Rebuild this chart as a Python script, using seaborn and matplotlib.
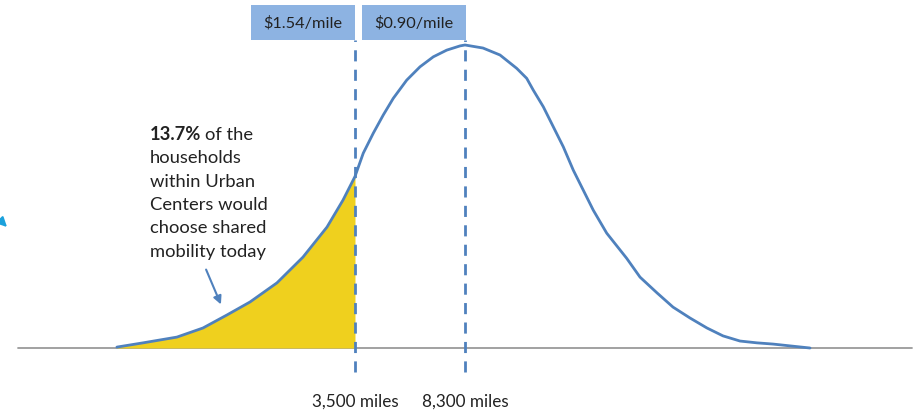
import matplotlib
matplotlib.use("Agg")
import matplotlib.pyplot as plt
from matplotlib.patches import Rectangle
import numpy as np
import pandas as pd
import seaborn as sns

# 연간 주행거리(miles, 로그축) vs 상대 가구 비율 (곡선 최고점 = 100)
miles = [540, 663, 865, 1061, 1281, 1536, 1897, 2327, 2809, 3185, 3500,
         3735, 4041, 4370, 4727, 5252, 5830, 6473, 7189, 7982, 8300,
         9560, 10925, 12454, 13472, 14188, 15351, 16602, 17956, 19420,
         21003, 22716, 25249, 29532, 32787, 37466, 42485, 48552, 55477,
         62903, 71876, 82130, 93140, 106430, 124540]
share = [0.3, 1.7, 3.6, 6.6, 10.9, 15.2, 21.5, 30.0, 39.9, 48.8, 56.6,
         64.3, 70.9, 76.9, 82.4, 88.4, 92.8, 96.1, 98.3, 99.7, 100.0,
         99.0, 96.7, 92.3, 89.0, 85.1, 79.6, 73.0, 66.4, 58.7,
         52.1, 45.5, 37.9, 29.6, 23.4, 18.2, 13.5, 9.9, 6.6,
         4.0, 2.3, 1.7, 1.3, 0.7, 0.0]

cut_miles = [3500, 8300]
cut_labels = ["3,500 miles", "8,300 miles"]
cost_labels = ["$1.54/mile", "$0.90/mile"]
note_pct = "13.7%"

df = pd.DataFrame({"miles": miles, "share": share})

sns.set_theme(style="white")
plt.rcParams["font.family"] = ["Lato", "DejaVu Sans"]

W, H = 915, 412
fig = plt.figure(figsize=(W / 100, H / 100), dpi=100)
ax = fig.add_axes([0, 0, 1, 1])
ax.set_xscale("log")
ax.set_xlim(215.7, 283950)
ax.set_ylim(-21.12, 114.85)
ax.axis("off")

blue = "#4F81BD"
txt = "#222222"

# 기준선
ax.axhline(0, xmin=18 / W, xmax=912 / W, color="#9a9a9a", lw=1.3, zorder=1)

# 3,500 miles 이하 영역 채우기
left = df[df["miles"] <= cut_miles[0]]
ax.fill_between(left["miles"], 0, left["share"], color="#EFD01E", lw=0, zorder=2)

# 분포 곡선
sns.lineplot(data=df, x="miles", y="share", color=blue, lw=2.0, ax=ax, zorder=3,
             solid_joinstyle="round", solid_capstyle="round")

# 점선 + 라벨
for m, lab in zip(cut_miles, cut_labels):
    ax.plot([m, m], [-7.9, 101.7], color=blue, lw=2.0, ls=(0, (4, 3)), zorder=4)
    ax.text(m, -17.8, lab, ha="center", va="center", fontsize=12.3, color=txt)

# 상단 비용 박스
box_px = [(251, 355), (362, 466)]
for (x0, x1), lab in zip(box_px, cost_labels):
    fig.patches.append(Rectangle((x0 / W, 1 - 40 / H), (x1 - x0) / W, 35 / H,
                                 transform=fig.transFigure, color="#8DB3E2", lw=0))
    fig.text((x0 + x1) / 2 / W, 1 - 23 / H, lab, ha="center", va="center",
             fontsize=11.8, color=txt)

# 주석 텍스트
lines = [None, "households", "within Urban", "Centers would", "choose shared", "mobility today"]
y0 = 135
for i, ln in enumerate(lines):
    ypx = y0 + i * 23.3
    if ln is None:
        t = fig.text(150 / W, 1 - ypx / H, note_pct, fontsize=13.2, fontweight="bold",
                     va="center", ha="left", color=txt)
        fig.canvas.draw()
        bb = t.get_window_extent()
        fig.text(bb.x1 / W + 4 / W, 1 - ypx / H, "of the", fontsize=13.2,
                 va="center", ha="left", color=txt)
    else:
        fig.text(150 / W, 1 - ypx / H, ln, fontsize=13.2, va="center", ha="left",
                 color=txt)

# 화살표
ax.annotate("", xy=(222 / W, 1 - 307 / H), xytext=(205 / W, 1 - 267 / H),
            xycoords="figure fraction", textcoords="figure fraction",
            arrowprops=dict(arrowstyle="-|>", color=blue, lw=1.5, mutation_scale=12))

# 왼쪽 가장자리의 잘린 화살표
ax.annotate("", xy=(9 / W, 1 - 229 / H), xytext=(-20 / W, 1 - 200 / H),
            xycoords="figure fraction", textcoords="figure fraction",
            arrowprops=dict(arrowstyle="-|>", color="#1BA1DC", lw=1.5, mutation_scale=14))

fig.savefig("out.png", dpi=100)
